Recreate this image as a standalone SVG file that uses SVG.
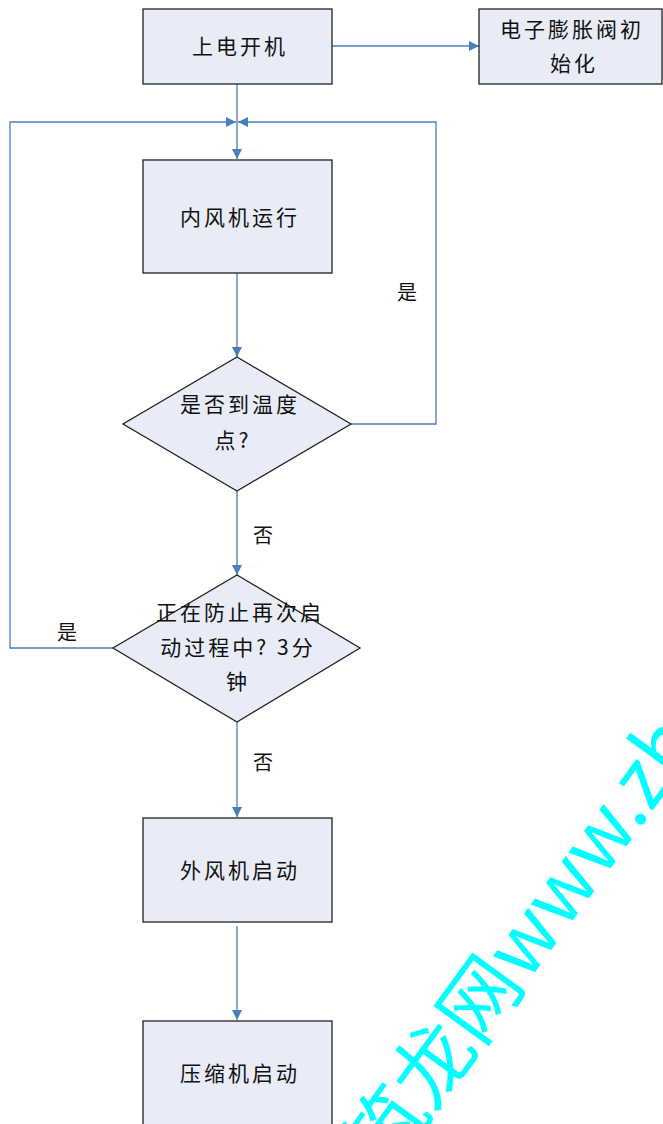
<svg xmlns="http://www.w3.org/2000/svg" width="663" height="1124" viewBox="0 0 663 1124">
<defs>
<style>
.n{fill:#e8ecf7;stroke:#222;stroke-width:1.3}
.t{font-family:"Noto Sans CJK SC","Noto Sans CJK JP",sans-serif;font-size:21px;fill:#111;text-anchor:middle;letter-spacing:3px}
.l{font-family:"Noto Sans CJK SC",sans-serif;font-size:20px;fill:#111;text-anchor:middle}
.c{fill:none;stroke:#4a7ebb;stroke-width:1.3}
.wm{font-family:"Noto Sans CJK SC",sans-serif;font-size:80px;fill:#00ffff}
</style>
<marker id="a" viewBox="0 0 10 10" refX="10" refY="5" markerWidth="10" markerHeight="10" markerUnits="userSpaceOnUse" orient="auto">
<path d="M0,0 L10,5 L0,10 Z" fill="#4a7ebb"/>
</marker>
</defs>
<g id="connectors">
<path class="c" d="M332,46 H479" marker-end="url(#a)"/>
<path class="c" d="M237,84 V159" marker-end="url(#a)"/>
<path class="c" d="M237,273 V357" marker-end="url(#a)"/>
<path class="c" d="M237,491 V575" marker-end="url(#a)"/>
<path class="c" d="M237,722 V817" marker-end="url(#a)"/>
<path class="c" d="M237,926 V1020" marker-end="url(#a)"/>
<path class="c" d="M351,424 H436 V122 H238" marker-end="url(#a)"/>
<path class="c" d="M113,648 H10 V122 H236" marker-end="url(#a)"/>
<text class="l" x="407" y="300">是</text>
<text class="l" x="67" y="640">是</text>
<text class="l" x="263" y="543">否</text>
<text class="l" x="263" y="770">否</text>
</g>
<g id="n1"><rect class="n" x="143" y="9" width="189" height="75"/><text class="t" x="240" y="54">上电开机</text></g>
<g id="n2"><rect class="n" x="479" y="9" width="183" height="75"/><text class="t" x="572" y="37">电子膨胀阀初</text><text class="t" x="574" y="71">始化</text></g>
<g id="n3"><rect class="n" x="143" y="160" width="189" height="113"/><text class="t" x="240" y="225">内风机运行</text></g>
<g id="n4"><polygon class="n" points="237,357 351,424 237,491 123,424"/><text class="t" x="240" y="412">是否到温度</text><text class="t" x="233" y="448">点?</text></g>
<g id="n5"><polygon class="n" points="237,575 360,648 237,722 113,648"/><text class="t" x="240" y="620">正在防止再次启</text><text class="t" x="238" y="655">动过程中? 3分</text><text class="t" x="238" y="689">钟</text></g>
<g id="n6"><rect class="n" x="143" y="818" width="189" height="104"/><text class="t" x="240" y="878">外风机启动</text></g>
<g id="n7"><rect class="n" x="143" y="1021" width="189" height="115"/><text class="t" x="240" y="1081">压缩机启动</text></g>
<g id="watermark" transform="translate(432,1063) rotate(-54)"><text class="wm" x="-120" y="30">筑龙网www.zhulong.com</text></g>
</svg>
